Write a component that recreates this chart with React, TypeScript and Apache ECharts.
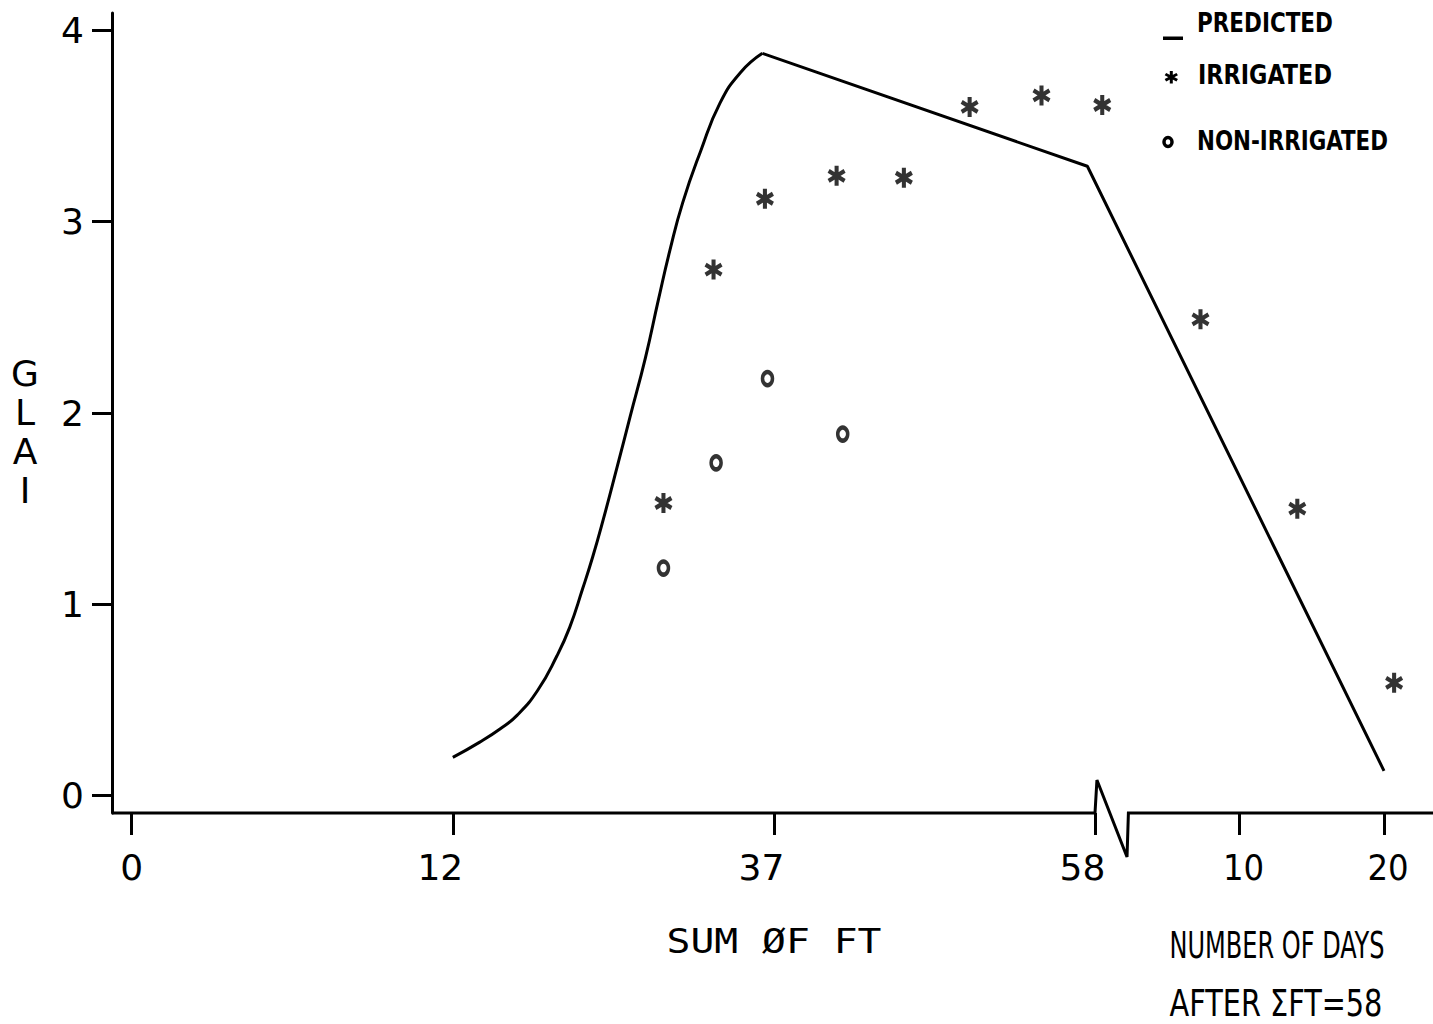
import React, { useEffect, useRef } from "react";
import * as echarts from "echarts";

// ---------- data ----------
const FT_TICKS = [0, 12, 37, 58];
const DAY_TICKS = [10, 20];
const Y_TICKS = [0, 1, 2, 3, 4];

// Predicted GLAI: rising part (sum of FT)
const PRED_RISE_FT = [12, 14.1, 15.7, 17.0, 18.6, 20.1, 21.1, 22.1, 22.9, 23.7, 24.8, 25.8, 27.0, 28.0, 28.9, 29.9, 31.3, 32.8, 34.4, 36.1];
const PRED_RISE_GLAI = [0.2, 0.28, 0.35, 0.42, 0.55, 0.73, 0.88, 1.08, 1.25, 1.44, 1.72, 1.98, 2.29, 2.59, 2.85, 3.1, 3.37, 3.62, 3.78, 3.88];
// Predicted GLAI: declining part
const PRED_FALL_FT = [36.1, 57.5];
const PRED_FALL_FT_GLAI = [3.88, 3.29];
const PRED_FALL_DAYS = [20];
const PRED_FALL_DAYS_GLAI = [0.13];

// Irrigated observations
const IRR_FT = [28.4, 32.3, 36.3, 41.1, 45.5, 49.8, 54.5];
const IRR_FT_GLAI = [1.53, 2.75, 3.12, 3.24, 3.23, 3.6, 3.66];
const IRR_DAYS = [0.5, 7.3, 14.0, 20.7];
const IRR_DAYS_GLAI = [3.61, 2.49, 1.5, 0.59];

// Non-irrigated observations
const NON_FT = [28.4, 32.5, 36.5, 41.5];
const NON_FT_GLAI = [1.19, 1.74, 2.18, 1.89];

// ---------- axis mapping (broken, piecewise axis) ----------
const DAY_UNIT = 0.45; // axis units per 10 days after the break
const ftPos = (ft: number) => {
  for (let i = 0; i < FT_TICKS.length - 1; i++) {
    if (ft <= FT_TICKS[i + 1] || i === FT_TICKS.length - 2) {
      return i + (ft - FT_TICKS[i]) / (FT_TICKS[i + 1] - FT_TICKS[i]);
    }
  }
  return 0;
};
const BREAK_POS = FT_TICKS.length - 1;
const dayPos = (d: number) => BREAK_POS + (d / 10) * DAY_UNIT;

const X_MIN = -0.0614;
const X_MAX = 4.0526;
const Y_MIN = -0.0904;
const Y_MAX = 4.091;

const X_TICK_POS = [...FT_TICKS.map(ftPos), ...DAY_TICKS.map(dayPos)];
const X_TICK_LABELS = [...FT_TICKS.map(String), ...DAY_TICKS.map(String)];

const STAR_D =
  "M7.8 0L12.2 0L12.2 20L7.8 20Z" +
  "M0.24 6.905L2.44 3.095L19.76 13.095L17.56 16.905Z" +
  "M2.44 16.905L0.24 13.095L17.56 3.095L19.76 6.905Z";
const STAR_PATH = "path://" + STAR_D;

echarts.graphic.registerShape("asterisk", echarts.graphic.extendPath(STAR_D, {}));

const SANS = '"DejaVu Sans", "Liberation Sans", sans-serif';
const COND = '"DejaVu Sans Condensed", "DejaVu Sans", sans-serif';
const MONO = '"DejaVu Sans Mono", "Liberation Mono", monospace';

function fitScale(text: string, font: string, target: number) {
  const c = document.createElement("canvas").getContext("2d");
  if (!c) return 1;
  c.font = font;
  const w = c.measureText(text).width;
  return w > 0 ? target / w : 1;
}

export default function App() {
  const ref = useRef<HTMLDivElement>(null);

  useEffect(() => {
    if (!ref.current) return;
    const chart = echarts.init(ref.current, undefined, { renderer: "svg" });

    const riseData = PRED_RISE_FT.map((f, i) => [ftPos(f), PRED_RISE_GLAI[i]]);
    const fallData = [
      ...PRED_FALL_FT.map((f, i) => [ftPos(f), PRED_FALL_FT_GLAI[i]]),
      ...PRED_FALL_DAYS.map((d, i) => [dayPos(d), PRED_FALL_DAYS_GLAI[i]]),
    ];
    const irrData = [
      ...IRR_FT.map((f, i) => [ftPos(f), IRR_FT_GLAI[i]]),
      ...IRR_DAYS.map((d, i) => [dayPos(d), IRR_DAYS_GLAI[i]]),
    ];
    const nonData = NON_FT.map((f, i) => [ftPos(f), NON_FT_GLAI[i]]);

    const labelFor = (v: number) => {
      let best = 0;
      for (let i = 1; i < X_TICK_POS.length; i++) {
        if (Math.abs(X_TICK_POS[i] - v) < Math.abs(X_TICK_POS[best] - v)) best = i;
      }
      const t = X_TICK_LABELS[best];
      if (best >= FT_TICKS.length) return `{d|${t}}`;
      if (best === 0) return `{z|${t}}`;
      return `{f|${t}}`;
    };

    chart.setOption({
      animation: false,
      backgroundColor: "#ffffff",
      grid: { left: 112, right: 0, top: 13, bottom: 211, containLabel: false },
      xAxis: {
        type: "value",
        min: X_MIN,
        max: X_MAX,
        axisLine: { show: false, onZero: false },
        splitLine: { show: false },
        axisTick: {
          show: true,
          length: 22,
          customValues: X_TICK_POS,
          lineStyle: { color: "#000", width: 3 },
        },
        axisLabel: {
          customValues: X_TICK_POS,
          formatter: labelFor,
          margin: 36,
          color: "#000",
          rich: {
            z: { fontSize: 36, fontFamily: SANS, color: "#000" },
            f: { fontSize: 36, fontFamily: SANS, color: "#000", padding: [0, 25, 0, 0] },
            d: { fontSize: 36, fontFamily: COND, color: "#000", padding: [0, 0, 0, 8] },
          },
        },
      },
      yAxis: {
        type: "value",
        min: Y_MIN,
        max: Y_MAX,
        axisLine: { show: true, onZero: false, lineStyle: { color: "#000", width: 3 } },
        splitLine: { show: false },
        axisTick: {
          show: true,
          length: 20,
          customValues: Y_TICKS,
          lineStyle: { color: "#000", width: 3 },
        },
        axisLabel: {
          customValues: Y_TICKS,
          margin: 28,
          color: "#000",
          fontSize: 36,
          fontFamily: SANS,
        },
      },
      series: [
        {
          name: "PREDICTED",
          type: "line",
          data: riseData,
          smooth: 0.5,
          showSymbol: false,
          lineStyle: { color: "#000", width: 3 },
          z: 2,
        },
        {
          name: "PREDICTED",
          type: "line",
          data: fallData,
          smooth: false,
          showSymbol: false,
          lineStyle: { color: "#000", width: 3 },
          z: 2,
        },
        {
          name: "IRRIGATED",
          type: "scatter",
          data: irrData,
          symbol: STAR_PATH,
          symbolSize: [18, 20],
          symbolKeepAspect: false,
          itemStyle: { color: "#000" },
          z: 3,
        },
        {
          name: "NON-IRRIGATED",
          type: "scatter",
          data: nonData,
          symbol: "circle",
          symbolSize: [10, 13],
          itemStyle: { color: "#fff", borderColor: "#000", borderWidth: 4 },
          z: 3,
        },
      ],
    });

    const px = (u: number, v: number) =>
      chart.convertToPixel({ gridIndex: 0 }, [u, v]) as number[];

    const axisPts = [
      px(X_MIN, Y_MIN),
      px(BREAK_POS, Y_MIN),
      px(BREAK_POS + 0.006, 0.082),
      px(BREAK_POS + 0.0997, -0.32),
      px(BREAK_POS + 0.104, Y_MIN),
      px(X_MAX, Y_MIN),
    ];

    const sumFont = `34px ${MONO}`;
    const daysFont = `37px ${COND}`;
    const legFont = `bold 26px ${COND}`;

    const legendText = (text: string, x: number, y: number, w: number) => ({
      type: "text",
      x,
      y,
      scaleX: fitScale(text, legFont, w),
      style: {
        text,
        font: legFont,
        fill: "#000",
        align: "left",
        verticalAlign: "middle",
      },
    });

    chart.setOption({
      graphic: [
        {
          type: "polyline",
          shape: { points: axisPts },
          style: { stroke: "#000", lineWidth: 3, fill: null },
          z: 10,
        },
        {
          type: "text",
          x: 25,
          y: 432,
          style: {
            text: "G\nL\nA\nI",
            font: `36px ${SANS}`,
            lineHeight: 39,
            fill: "#000",
            align: "center",
            verticalAlign: "middle",
          },
        },
        {
          type: "text",
          x: 774,
          y: 941,
          scaleX: fitScale("SUM ØF FT", sumFont, 215),
          style: {
            text: "SUM ØF FT",
            font: sumFont,
            fill: "#000",
            align: "center",
            verticalAlign: "middle",
          },
        },
        {
          type: "text",
          x: 1277,
          y: 945,
          scaleX: fitScale("NUMBER OF DAYS", daysFont, 215),
          style: {
            text: "NUMBER OF DAYS",
            font: daysFont,
            lineHeight: 32,
            fill: "#000",
            align: "center",
            verticalAlign: "middle",
          },
        },
        {
          type: "text",
          x: 1276,
          y: 1003,
          scaleX: fitScale("AFTER ΣFT=58", daysFont, 213),
          style: {
            text: "AFTER ΣFT=58",
            font: daysFont,
            lineHeight: 32,
            fill: "#000",
            align: "center",
            verticalAlign: "middle",
          },
        },
        // legend
        {
          type: "rect",
          shape: { x: 1163, y: 36.5, width: 20, height: 3.5 },
          style: { fill: "#000" },
        },
        legendText("PREDICTED", 1197, 23, 136),
        {
          type: "asterisk",
          x: 1164.5,
          y: 71,
          scaleX: 0.68,
          scaleY: 0.62,
          style: { fill: "#000" },
        },
        legendText("IRRIGATED", 1198, 75, 134),
        {
          type: "ellipse",
          shape: { cx: 1168, cy: 142, rx: 4, ry: 4.5 },
          style: { fill: "#fff", stroke: "#000", lineWidth: 3.5 },
        },
        legendText("NON-IRRIGATED", 1197, 141, 191),
      ],
    });

    return () => chart.dispose();
  }, []);

  return (
    <div
      ref={ref}
      style={{ position: "fixed", left: 0, top: 0, width: 1433, height: 1024, background: "#fff" }}
    />
  );
}
